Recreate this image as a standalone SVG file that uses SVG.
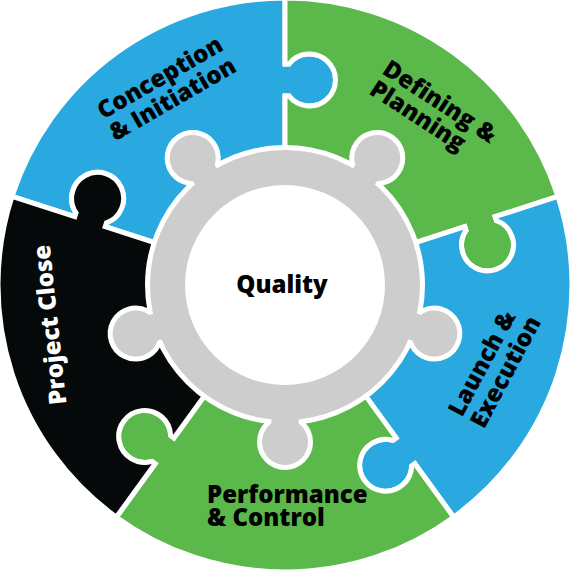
<svg xmlns="http://www.w3.org/2000/svg" xmlns:xlink="http://www.w3.org/1999/xlink" width="570" height="570" viewBox="0 0 570 570">
<style>
.piece{stroke:#ffffff;stroke-width:5;stroke-linejoin:miter}
.blue{fill:#29a9e0}
.green{fill:#5bb84b}
.black{fill:#06090a}
.lbl{font-family:"Open Sans","Liberation Sans",sans-serif;font-weight:800;font-size:24px;fill:#000000}
.lblw{fill:#ffffff}
</style>
<defs>
<g id="knob"><rect x="410" y="271.5" width="28" height="27"/><circle cx="442" cy="285" r="23"/></g>
<g id="ringShape">
<circle cx="285" cy="285" r="135"/>
<use xlink:href="#knob" transform="rotate(-126 285 285)"/>
<use xlink:href="#knob" transform="rotate(-54 285 285)"/>
<use xlink:href="#knob" transform="rotate(18 285 285)"/>
<use xlink:href="#knob" transform="rotate(90 285 285)"/>
<use xlink:href="#knob" transform="rotate(162 285 285)"/>
</g>
</defs>
<rect width="570" height="570" fill="#ffffff"/>
<g id="conception">
<path class="piece blue" d="M 166.12 246.37 L 105.25 226.60 L 106.49 222.80 A 26 26 0 1 0 76.06 212.91 L 74.82 216.71 L 12.05 196.31 A 287 287 0 0 1 285 -2 L 285 64 L 289 64 A 26 26 0 1 1 289 96 L 285 96 L 285 160 A 125 125 0 0 0 166.12 246.37 Z"/>
<text class="lbl" transform="translate(166 88) rotate(-30)" text-anchor="middle"><tspan x="0" y="-4">Conception</tspan><tspan x="0" y="21">&amp; Initiation</tspan></text>
</g>
<g id="defining">
<path class="piece green" d="M 285 160 L 285 96 L 289 96 A 26 26 0 1 0 289 64 L 285 64 L 285 -2 A 287 287 0 0 1 557.95 196.31 L 495.18 216.71 L 496.42 220.51 A 26 26 0 1 1 465.99 230.40 L 464.75 226.60 L 403.88 246.37 A 125 125 0 0 0 285 160 Z"/>
<text class="lbl" transform="translate(381 73) rotate(33)"><tspan x="0" y="0">Defining &amp;</tspan><tspan x="0" y="24">Planning</tspan></text>
</g>
<g id="launch">
<path class="piece blue" d="M 403.88 246.37 L 464.75 226.60 L 465.99 230.40 A 26 26 0 1 0 496.42 220.51 L 495.18 216.71 L 557.95 196.31 A 287 287 0 0 1 453.69 517.19 L 414.90 463.79 L 411.66 466.14 A 26 26 0 1 1 392.85 440.25 L 396.09 437.90 L 358.47 386.13 A 125 125 0 0 0 403.88 246.37 Z"/>
<text class="lbl" transform="translate(462 418) rotate(-62)"><tspan x="0" y="0">Launch &amp;</tspan><tspan x="0" y="25">Execution</tspan></text>
</g>
<g id="performance">
<path class="piece green" d="M 358.47 386.13 L 396.09 437.90 L 392.85 440.25 A 26 26 0 1 0 411.66 466.14 L 414.90 463.79 L 453.69 517.19 A 287 287 0 0 1 116.31 517.19 L 155.10 463.79 L 151.86 461.44 A 26 26 0 1 1 170.67 435.55 L 173.91 437.90 L 211.53 386.13 A 125 125 0 0 0 358.47 386.13 Z"/>
<text class="lbl"><tspan x="207" y="502.5">Performance</tspan><tspan x="207" y="526">&amp; Control</tspan></text>
</g>
<g id="project-close">
<path class="piece black" d="M 211.53 386.13 L 173.91 437.90 L 170.67 435.55 A 26 26 0 1 0 151.86 461.44 L 155.10 463.79 L 116.31 517.19 A 287 287 0 0 1 12.05 196.31 L 74.82 216.71 L 76.06 212.91 A 26 26 0 1 1 106.49 222.80 L 105.25 226.60 L 166.12 246.37 A 125 125 0 0 0 211.53 386.13 Z"/>
<text class="lbl lblw" transform="translate(58 324) rotate(-96)" text-anchor="middle">Project Close</text>
</g>
<g id="quality">
<use xlink:href="#ringShape" fill="#ffffff" stroke="#ffffff" stroke-width="10" stroke-linejoin="round"/>
<use xlink:href="#ringShape" fill="#cdcdcd"/>
<circle cx="285" cy="285" r="100" fill="#ffffff"/>
<text class="lbl" x="282" y="293" text-anchor="middle">Quality</text>
</g>
</svg>
